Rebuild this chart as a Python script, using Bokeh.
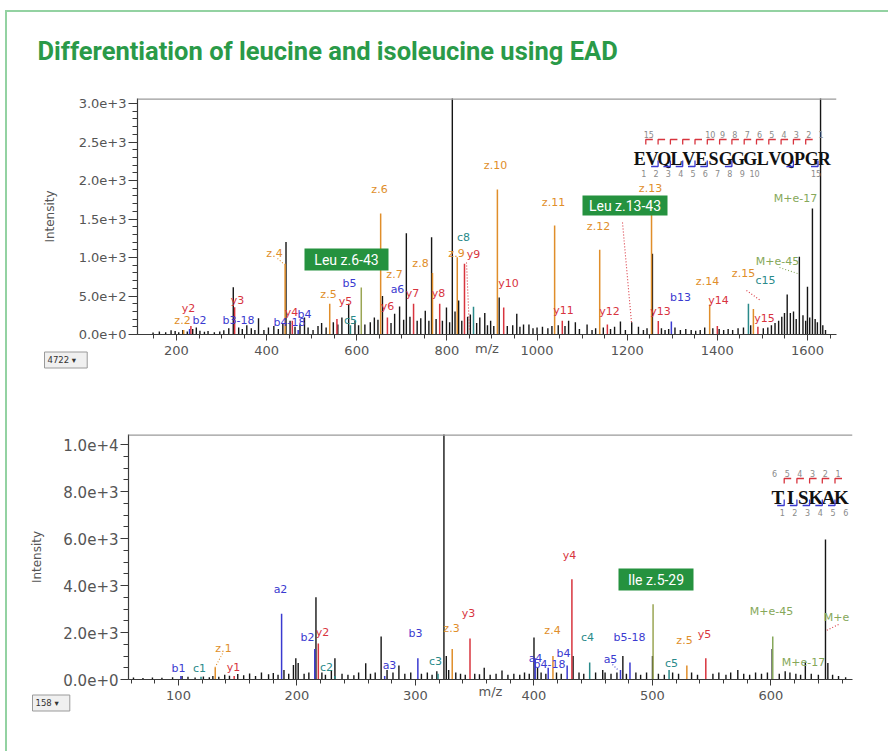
from bokeh.plotting import figure
from bokeh.models import (ColumnDataSource, Span, Range1d, Spacer, Title,
                          SingleIntervalTicker, PrintfTickFormatter)
from bokeh.layouts import column, row
from bokeh.embed import file_html
from bokeh.resources import INLINE
from bokeh.core.properties import value

TITLE = "Differentiation of leucine and isoleucine using EAD"

# ---------------- top spectrum: EVQLVESGGGLVQPGR ----------------
top_other_mz = [148, 162, 176, 188, 197, 205, 214, 224, 236, 244,
                252, 262, 270, 284, 296, 305, 316, 326, 338, 346,
                356, 366, 374, 382, 394, 404, 416, 426, 436, 443,
                452, 463, 474, 484, 492, 503, 514, 522, 532, 548,
                558, 567, 582, 596, 604, 618, 630, 639, 647, 657,
                676, 684, 695, 704, 710, 718, 734, 742, 752, 760,
                766, 776, 790, 799, 806, 812, 818, 826, 833, 846,
                852, 866, 873, 884, 890, 897, 904, 916, 934, 946,
                955, 962, 970, 982, 991, 1000, 1012, 1024, 1033, 1047,
                1062, 1070, 1085, 1094, 1111, 1122, 1130, 1147, 1163, 1172,
                1185, 1196, 1210, 1225, 1236, 1244, 1256, 1276, 1284, 1292,
                1306, 1318, 1330, 1342, 1352, 1362, 1372, 1390, 1404, 1414,
                1424, 1434, 1446, 1458, 1474, 1502, 1512, 1520, 1528, 1536,
                1543, 1549, 1555, 1562, 1569, 1575, 1582, 1590, 1596, 1600,
                1605, 1611, 1617, 1622, 1629, 1634, 1640]
top_other_int = [25, 40, 30, 55, 45, 30, 60, 40, 70, 90,
                 50, 35, 45, 30, 40, 55, 80, 615, 90, 70,
                 120, 80, 60, 210, 60, 90, 110, 70, 140, 1200,
                 180, 100, 130, 220, 90, 60, 110, 150, 90, 160,
                 130, 220, 400, 180, 120, 130, 160, 220, 190, 500,
                 150, 270, 364, 190, 1316, 230, 180, 210, 310, 180,
                 1264, 200, 180, 350, 160, 3300, 300, 440, 180, 230,
                 260, 150, 220, 280, 120, 180, 110, 480, 110, 120,
                 270, 100, 130, 130, 80, 90, 100, 80, 110, 120,
                 110, 180, 160, 70, 130, 60, 80, 90, 70, 100,
                 170, 60, 160, 100, 60, 80, 1050, 80, 60, 70,
                 90, 60, 70, 60, 50, 60, 90, 80, 70, 60,
                 70, 60, 80, 90, 120, 80, 90, 120, 150, 180,
                 230, 280, 520, 280, 300, 200, 1010, 250, 180, 620,
                 220, 1636, 200, 160, 3300, 120, 60]

top_ion_kind = ["z", "b", "y", "y", "z", "y", "b", "z", "y", "c",
                "w", "z", "y", "y", "z", "y", "z", "y", "c", "z",
                "y", "z", "y", "z", "y", "z", "y", "b", "z", "y",
                "c", "z", "y"]
top_ion_mz = [216, 229, 232, 329, 441, 457, 470, 540, 556, 586,
              610, 653, 668, 726, 768, 784, 823, 839, 859, 912,
              926, 1039, 1056, 1139, 1156, 1254, 1269, 1298, 1383, 1400,
              1469, 1480, 1490]
top_ion_int = [60, 70, 110, 355, 920, 180, 60, 400, 200, 120,
               610, 1571, 220, 400, 800, 400, 1004, 920, 360, 1883,
               350, 1416, 180, 1100, 130, 1650, 175, 170, 390, 110,
               400, 330, 100]

top_label_text = ["y2", "z.2", "b2", "b3-18", "y3", "z.4", "y4", "b4", "b4-18", "z.5",
                  "y5", "b5", "c5", "z.6", "z.7", "a6", "y6", "y7", "z.8", "y8",
                  "c8", "z.9", "y9", "z.10", "y10", "z.11", "y11", "z.12", "y12", "z.13",
                  "y13", "b13", "z.14", "y14", "z.15", "c15", "M+e-45", "y15", "M+e-17"]
top_label_kind = ["y", "z", "b", "b", "y", "z", "y", "b", "b", "z",
                  "y", "b", "c", "z", "z", "b", "y", "y", "z", "y",
                  "c", "z", "y", "z", "y", "z", "y", "z", "y", "z",
                  "y", "b", "z", "y", "z", "c", "m", "y", "m"]
top_sequence = "EVQLVESGGGLVQPGR"
top_seq_above = ["15", "", "", "", "", "10", "9", "8", "7", "6", "5", "4", "3", "2", "1"]
top_seq_below = ["1", "2", "3", "4", "5", "6", "7", "8", "9", "10", "", "", "", "", "15"]
top_seq_y_hits = [1, 2, 3, 4, 5, 6, 7, 8, 9, 10, 11, 12, 13, 14]
top_seq_c_hits = [2, 3, 4, 5, 6, 8, 13, 15]
top_marker_text = ["Leu z.6-43", "Leu z.13-43"]
top_scan = "4722    \u25BE"

# ---------------- bottom spectrum: TISKAK ----------------
bot_other_mz = [62, 70, 78, 86, 95, 103, 108, 114, 121, 126,
                129, 134, 139, 143, 150, 155, 160, 165, 170, 176,
                180, 184, 189, 193, 197, 199, 201, 206, 210, 216,
                221, 224, 229, 232, 238, 243, 248, 252, 258, 262,
                266, 271, 276, 281, 286, 291, 296, 305, 310, 314,
                318, 324, 326, 328, 334, 338, 342, 350, 354, 358,
                363, 368, 373, 378, 383, 388, 392, 396, 400, 403,
                406, 410, 419, 423, 433, 438, 442, 452, 458, 460,
                465, 470, 475, 478, 486, 490, 495, 500, 505, 510,
                517, 522, 533, 538, 551, 556, 562, 566, 572, 577,
                582, 587, 592, 597, 601, 607, 612, 616, 621, 625,
                629, 634, 640, 646, 648, 652, 657, 663]
bot_other_int = [80, 60, 90, 70, 100, 150, 120, 90, 130, 100,
                 150, 120, 200, 160, 230, 180, 260, 150, 300, 220,
                 280, 200, 400, 250, 620, 900, 700, 250, 300, 3500,
                 300, 200, 400, 900, 250, 200, 180, 300, 690, 250,
                 300, 1830, 400, 300, 600, 250, 300, 250, 300, 200,
                 350, 10800, 1000, 400, 300, 250, 200, 250, 220, 500,
                 200, 250, 380, 200, 250, 200, 300, 250, 1790, 500,
                 300, 250, 300, 250, 1000, 300, 250, 300, 400, 300,
                 250, 300, 1000, 250, 300, 200, 300, 1000, 250, 200,
                 300, 250, 300, 200, 250, 300, 200, 300, 400, 250,
                 200, 300, 250, 300, 1300, 250, 350, 300, 250, 200,
                 760, 250, 200, 5960, 700, 200, 150, 100]

bot_ion_kind = ["b", "c", "z", "y", "b", "b", "y", "c", "b", "b",
                "c", "z", "y", "b", "b", "z", "b", "y", "c", "b",
                "b", "w", "c", "z", "y", "m"]
bot_ion_mz = [102, 119, 131, 147, 187, 215, 218, 232, 274, 302,
              319, 331, 346, 401, 412, 416, 428, 432, 447, 473,
              481, 500.5, 514, 529, 545, 601.5]
bot_ion_int = [150, 120, 510, 150, 2800, 1300, 1530, 150, 150, 900,
               250, 1300, 1740, 900, 500, 1000, 600, 4270, 720, 400,
               720, 3200, 400, 600, 900, 1830]

bot_label_text = ["b1", "c1", "z.1", "y1", "a2", "b2", "y2", "c2", "a3", "b3",
                  "c3", "z.3", "y3", "a4", "b4-18", "z.4", "b4", "y4", "c4", "a5",
                  "b5-18", "c5", "z.5", "y5", "M+e-45", "M+e-17", "M+e"]
bot_label_kind = ["b", "c", "z", "y", "b", "b", "y", "c", "b", "b",
                  "c", "z", "y", "b", "b", "z", "b", "y", "c", "b",
                  "b", "c", "z", "y", "m", "m", "m"]
bot_sequence = "TISKAK"
bot_seq_above = ["6", "5", "4", "3", "2", "1"]
bot_seq_below = ["1", "2", "3", "4", "5", "6"]
bot_seq_y_hits = [1, 2, 3, 4, 5]
bot_seq_c_hits = [1, 2, 3, 4, 5]
bot_marker_text = ["Ile z.5-29"]
bot_scan = "158    \u25BE"

# ---------------- styles / layout (page pixels) ----------------
COL = {"u": "#151515", "z": "#e08e2a", "y": "#d8343e", "b": "#3a3ad0",
       "c": "#2a8a8a", "w": "#9aa553", "m": "#86a85a"}
LCOL = {"z": "#e08e2a", "y": "#d8343e", "b": "#3a3ad0", "c": "#2a8a8a", "m": "#86a85a"}
GREEN = "#25923f"
FRAME_GREEN = "#93d2a2"

PAGE_W, PAGE_H = 888, 751
MX, MY, BW = 5, 10, 2
OX, OY = MX + BW, MY + BW
FIG_W = PAGE_W - OX
HEAD_H = 70
TOP_H = 314
BOT_H = PAGE_H - OY - HEAD_H - TOP_H
TITLE_X, TITLE_BASE = 37, 50

T_FRAME = (137, 836, 98, 334)      # left, right, top, bottom (page px)
B_FRAME = (128, 852, 434, 679)
T_XR, T_YR = (113.5, 1664.4), (0, 3065)
B_XR, B_YR = (57.8, 668.8), (0, 10426)

TOP_LABEL_XY = [(188, 308), (182, 320), (199, 320), (238, 320), (237, 300), (274, 253), (291, 312),
                (304, 314), (289, 322), (328, 294), (345, 301), (349, 283), (350, 320), (379, 189),
                (394, 274), (397, 289), (387, 306), (412, 293), (420, 263), (438, 293), (463, 237),
                (456, 253), (473, 254), (495, 165), (508, 283), (553, 202), (563, 310), (598, 226),
                (609, 311), (650, 188), (660, 311), (680, 297), (707, 281), (718, 300), (743, 273),
                (765, 280), (777, 261), (764, 318), (795, 198)]
BOT_LABEL_XY = [(178, 668), (199, 668), (223, 648), (233, 667), (280, 589), (307, 637), (322, 632),
                (326, 667), (389, 665), (415, 633), (435, 661), (451, 628), (468, 613), (535, 658),
                (549, 664), (552, 630), (563, 653), (569, 555), (587, 637), (610, 659), (629, 637),
                (671, 663), (684, 640), (704, 634), (771, 611), (803, 662), (836, 617)]
TOP_LEADERS = [((622, 222), (631, 322), "y"), ((466, 262), (469, 330), "y"),
               ((779, 267), (797, 273), "m"), ((746, 290), (760, 300), "y"),
               ((277, 258), (284, 264), "z")]
BOT_LEADERS = [((222, 653), (214, 668), "z"), ((838, 624), (826, 630), "y"),
               ((612, 664), (618, 670), "b")]
TOP_BOXES = [(346, 259, 84, 22), (624.5, 205, 85, 20)]
BOT_BOXES = [(655.5, 579, 75, 22)]
TOP_SEQ = dict(left=633, step=12.3, base=158, size="18px", fs="8px")
BOT_SEQ = dict(left=771, step=12.7, base=497, size="19px", fs="8px")
TOP_SCAN = (44, -19)     # left edge px, title standoff
BOT_SCAN = (32, -19)


def no_align(p):
    if "frame_align" in p.properties():
        p.frame_align = False


def mapper(frame, xr, yr):
    l, r, t, b = frame
    fx = lambda px: xr[0] + (px - l) * (xr[1] - xr[0]) / (r - l)
    fy = lambda py: yr[0] + (b - py) * (yr[1] - yr[0]) / (b - t)
    return fx, fy


def make_fig(h, top_off, frame, xr, yr, xint, xminor, yint, yminor, ylab_px,
             ylab_standoff, ytick_out, mz_standoff):
    l, r, t, b = frame
    p = figure(width=FIG_W, height=h, x_range=Range1d(*xr), y_range=Range1d(*yr),
               output_backend="svg", toolbar_location=None,
               min_border_left=l - OX, min_border_right=FIG_W - (r - OX),
               min_border_top=t - top_off, min_border_bottom=h - (b - top_off))
    no_align(p)
    p.grid.visible = False
    p.outline_line_color = None
    p.background_fill_color = "white"
    p.border_fill_color = "white"
    xa, ya = p.xaxis[0], p.yaxis[0]
    xa.ticker = SingleIntervalTicker(interval=xint, num_minor_ticks=xminor)
    ya.ticker = SingleIntervalTicker(interval=yint, num_minor_ticks=yminor)
    ya.formatter = PrintfTickFormatter(format="%.1e")
    for ax in (xa, ya):
        ax.axis_line_color = "#3a3a3a"
        ax.axis_line_width = 1.2
        ax.major_tick_line_color = "#3a3a3a"
        ax.minor_tick_line_color = "#3a3a3a"
        ax.major_tick_in = 0
        ax.minor_tick_in = 0
        ax.major_label_text_font = "DejaVu Sans"
        ax.major_label_text_color = "#555555"
        ax.axis_label_text_font = "DejaVu Sans"
        ax.axis_label_text_font_style = "normal"
        ax.axis_label_text_color = "#555555"
    xa.major_tick_out = 6
    xa.minor_tick_out = 4
    xa.major_label_text_font_size = "13px"
    xa.major_label_standoff = 5
    xa.axis_label = "m/z"
    xa.axis_label_text_font_size = "13px"
    xa.axis_label_standoff = mz_standoff
    ya.major_tick_out = ytick_out
    ya.minor_tick_out = 5
    ya.major_label_text_font_size = ylab_px
    ya.major_label_standoff = 2
    ya.axis_label = "Intensity"
    ya.axis_label_text_font_size = "12px"
    ya.axis_label_standoff = ylab_standoff
    p.add_layout(Span(location=yr[1], dimension="width", line_color="#9a9a9a", line_width=2.5))
    return p


def draw_spectrum(p, o_mz, o_int, i_mz, i_int, i_kind):
    s1 = ColumnDataSource(dict(x=o_mz, y=o_int))
    p.segment(x0="x", y0=0, x1="x", y1="y", source=s1, line_color=COL["u"], line_width=1.4)
    s2 = ColumnDataSource(dict(x=i_mz, y=i_int, c=[COL[k] for k in i_kind]))
    p.segment(x0="x", y0=0, x1="x", y1="y", source=s2, line_color="c", line_width=1.5)


def draw_labels(p, fx, fy, texts, kinds, xy, leaders):
    s = ColumnDataSource(dict(x=[fx(a) for a, _ in xy], y=[fy(b) for _, b in xy],
                              t=texts, c=[LCOL[k] for k in kinds]))
    p.text(x="x", y="y", text="t", text_color="c", source=s, text_font=value("DejaVu Sans"),
           text_font_size="11px", text_align="center", text_baseline="middle")
    for (a, b), (c, d), k in leaders:
        p.line([fx(a), fx(c)], [fy(b), fy(d)], line_color=LCOL[k], line_width=1.1, line_dash="1 2")


def draw_boxes(p, fx, fy, texts, boxes):
    for txt, (cx, cy, w, h) in zip(texts, boxes):
        p.rect(x=[fx(cx)], y=[fy(cy)], width=w, height=h, width_units="screen",
               height_units="screen", fill_color=GREEN, line_color=None)
        p.text(x=[fx(cx)], y=[fy(cy + 0.5)], text=[txt], text_color="white",
               text_font=value("Roboto"), text_font_size="14px",
               text_align="center", text_baseline="middle")


def draw_sequence(p, fx, fy, seq, above, below, yhits, chits, g):
    left, step, base = g["left"], g["step"], g["base"]
    bnd = lambda k: left + step * k
    xs = [fx(left + step * (i + 0.5)) for i in range(len(seq))]
    p.text(x=xs, y=[fy(base)] * len(seq), text=list(seq), text_color="#111111",
           text_font=value("Liberation Serif"), text_font_style="bold",
           text_font_size=g["size"], text_align="center", text_baseline="alphabetic")
    cap = 13
    top_y, bot_y = base - cap, base + 2
    p.multi_line(xs=[[fx(bnd(k)), fx(bnd(k)), fx(bnd(k) + 7)] for k in yhits],
                 ys=[[fy(top_y - 1), fy(top_y - 6), fy(top_y - 6)] for k in yhits],
                 line_color=COL["y"], line_width=1.3)
    p.multi_line(xs=[[fx(bnd(k)), fx(bnd(k)), fx(bnd(k) - 7)] for k in chits],
                 ys=[[fy(bot_y), fy(bot_y + 6), fy(bot_y + 6)] for k in chits],
                 line_color=COL["b"], line_width=1.3)
    ab_x, ab_t = [], []
    start = 1 if len(above) < len(seq) else 0
    for i, t in enumerate(above):
        if t:
            ab_x.append(fx(bnd(i + start) + 3))
            ab_t.append(t)
    p.text(x=ab_x, y=[fy(top_y - 11)] * len(ab_x), text=ab_t, text_color="#8a8a8a",
           text_font=value("DejaVu Sans"), text_font_size=g["fs"],
           text_align="center", text_baseline="middle")
    be_x, be_t = [], []
    for i, t in enumerate(below):
        if t:
            be_x.append(fx(bnd(i + 1) - 2))
            be_t.append(t)
    p.text(x=be_x, y=[fy(bot_y + 13)] * len(be_x), text=be_t, text_color="#8a8a8a",
           text_font=value("DejaVu Sans"), text_font_size=g["fs"],
           text_align="center", text_baseline="middle")


def scan_box(p, frame, spec, text):
    left_px, standoff = spec
    p.add_layout(Title(text=text, align="left", offset=left_px - frame[0], standoff=standoff,
                       text_font="DejaVu Sans", text_font_size="8.5px", text_font_style="normal",
                       text_color="#333333", background_fill_color="#f0f0f0",
                       border_line_color="#9a9a9a", padding=3), "below")


# ---------------- header (title) ----------------
head = figure(width=FIG_W, height=HEAD_H, x_range=Range1d(0, FIG_W), y_range=Range1d(0, HEAD_H),
              output_backend="svg", toolbar_location=None, x_axis_location=None,
              y_axis_location=None, min_border=0)
no_align(head)
head.grid.visible = False
head.outline_line_color = None
head.text(x=[TITLE_X - OX], y=[0], y_offset=-(OY + HEAD_H - TITLE_BASE), text=[TITLE],
          text_color="#2a9a48", text_font=value("Roboto"), text_font_style="bold",
          text_font_size="25.5px", text_align="left", text_baseline="alphabetic")

# ---------------- top figure ----------------
p1 = make_fig(TOP_H, OY + HEAD_H, T_FRAME, T_XR, T_YR, 200, 4, 500, 5, "13px", 19, 9, -17)
fx1, fy1 = mapper(T_FRAME, T_XR, T_YR)
draw_spectrum(p1, top_other_mz, top_other_int, top_ion_mz, top_ion_int, top_ion_kind)
draw_labels(p1, fx1, fy1, top_label_text, top_label_kind, TOP_LABEL_XY, TOP_LEADERS)
draw_boxes(p1, fx1, fy1, top_marker_text, TOP_BOXES)
draw_sequence(p1, fx1, fy1, top_sequence, top_seq_above, top_seq_below,
              top_seq_y_hits, top_seq_c_hits, TOP_SEQ)
scan_box(p1, T_FRAME, TOP_SCAN, top_scan)

# ---------------- bottom figure ----------------
p2 = make_fig(BOT_H, OY + HEAD_H + TOP_H, B_FRAME, B_XR, B_YR, 100, 5, 2000, 4, "15px", 16, 8, -19)
fx2, fy2 = mapper(B_FRAME, B_XR, B_YR)
draw_spectrum(p2, bot_other_mz, bot_other_int, bot_ion_mz, bot_ion_int, bot_ion_kind)
draw_labels(p2, fx2, fy2, bot_label_text, bot_label_kind, BOT_LABEL_XY, BOT_LEADERS)
draw_boxes(p2, fx2, fy2, bot_marker_text, BOT_BOXES)
draw_sequence(p2, fx2, fy2, bot_sequence, bot_seq_above, bot_seq_below,
              bot_seq_y_hits, bot_seq_c_hits, BOT_SEQ)
scan_box(p2, B_FRAME, BOT_SCAN, bot_scan)

# ---------------- page frame (green lines) ----------------
hline = Spacer(width=PAGE_W - MX, height=BW, styles={"background-color": FRAME_GREEN})
vline = Spacer(width=BW, height=PAGE_H - OY, styles={"background-color": FRAME_GREEN})
inner = column(hline, row(vline, column(head, p1, p2)))
layout = column(Spacer(width=PAGE_W, height=MY), row(Spacer(width=MX, height=PAGE_H - MY), inner))

open("out.html", "w").write(file_html(layout, INLINE, title=TITLE))
